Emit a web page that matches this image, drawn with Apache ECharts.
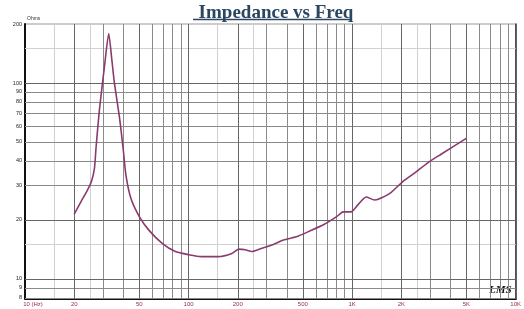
<!DOCTYPE html>
<html><head><meta charset="utf-8">
<script src="https://cdn.jsdelivr.net/npm/echarts@6/dist/echarts.min.js"></script>
<style>html,body{margin:0;padding:0;background:#fff}#c{width:524px;height:309px}</style>
</head><body><div id="c"></div>
<script>
// Impedance curve (Hz, Ohms)
const freqHz = [20, 22, 24, 25.5, 26.6, 27.2, 28.5, 30.6, 32.5, 34, 35.2, 37.8, 39.9, 41.4, 44.4, 50, 57, 69, 83, 100, 120, 152, 184, 203, 222, 243, 272, 330, 381, 456, 554, 668, 805, 882, 985, 1080, 1218, 1370, 1430, 1700, 2040, 2460, 2970, 3500, 4990];
const impedanceOhm = [21.4, 24.8, 28.2, 31.5, 36.8, 47, 72.8, 121, 179, 130, 100, 67, 45.5, 33.9, 25.8, 20.8, 17.8, 15.2, 13.8, 13.3, 13.0, 13.0, 13.5, 14.2, 14.1, 13.8, 14.2, 15.0, 15.8, 16.4, 17.6, 18.9, 20.8, 22.0, 22.0, 23.8, 26.2, 25.3, 25.4, 27.3, 31.4, 35.2, 39.7, 43.3, 52.2];

// tick labels
const xTickValues = [10, 20, 50, 100, 200, 500, 1000, 2000, 5000, 10000];
const xTickLabels = ['10 (Hz)', '20', '50', '100', '200', '500', '1K', '2K', '5K', '10K'];
const yTickValues = [8, 9, 10, 20, 30, 40, 50, 60, 70, 80, 90, 100, 200];

// grid lines
const xGridMajor = [20, 50, 100, 200, 500, 1000, 2000, 5000];
const xGridMinor = [30, 40, 60, 70, 80, 90, 300, 400, 600, 700, 800, 900, 3000, 4000, 6000, 7000, 8000, 9000];
const xGridLight = [15, 25, 150, 250, 1500, 2500];
const yGridMajor = [100, 20, 10];
const yGridMinor = [90, 80, 70, 60, 50, 40, 30, 9, 8];
const yGridLight = [150, 15];

const C_MAJOR = '#666666', C_MINOR = '#8a8a8a', C_LIGHT = '#d0d0d0';
const gridLines = [];
xGridLight.forEach(v => gridLines.push({xAxis: v, lineStyle: {color: C_LIGHT}}));
yGridLight.forEach(v => gridLines.push({yAxis: v, lineStyle: {color: C_LIGHT}}));
xGridMinor.forEach(v => gridLines.push({xAxis: v, lineStyle: {color: C_MINOR}}));
yGridMinor.forEach(v => gridLines.push({yAxis: v, lineStyle: {color: C_MINOR}}));
xGridMajor.forEach(v => gridLines.push({xAxis: v, lineStyle: {color: C_MAJOR}}));
yGridMajor.forEach(v => gridLines.push({yAxis: v, lineStyle: {color: C_MAJOR}}));

const chart = echarts.init(document.getElementById('c'), null, {renderer: 'canvas'});
chart.setOption({
  backgroundColor: '#fff',
  animation: false,
  title: {
    text: 'Impedance vs Freq', left: 271, top: -1, textAlign: 'center',
    textStyle: {fontFamily: 'Liberation Serif', fontWeight: 'bold', fontSize: 19, color: '#2b4660'}
  },
  graphic: [
    {type: 'line', shape: {x1: 193, y1: 19.5, x2: 351, y2: 19.5}, style: {stroke: '#2b4660', lineWidth: 1.3}},
    {type: 'text', left: 489, top: 285, style: {text: 'LMS', font: 'italic bold 11px Liberation Serif', fill: '#111'}}
  ],
  grid: {left: 25, right: 5, top: 24, bottom: 10, show: true, borderColor: '#999', borderWidth: 1},
  xAxis: {
    type: 'log', logBase: 10, min: 10, max: 10000,
    axisLine: {show: true, lineStyle: {color: '#111', width: 2}},
    axisTick: {show: false}, splitLine: {show: false}, minorSplitLine: {show: false},
    axisLabel: {
      customValues: xTickValues, margin: 2, fontSize: 6, color: '#9a2a48', fontFamily: 'Liberation Sans',
      formatter: v => {
        const i = xTickValues.findIndex(t => Math.abs(t - v) / t < 1e-6);
        const s = i >= 0 ? xTickLabels[i] : '';
        return i === 0 ? '{a|' + s + '}' : s;
      },
      rich: {a: {fontSize: 6, color: '#9a2a48', fontFamily: 'Liberation Sans', padding: [0, 0, 0, 16]}}
    }
  },
  yAxis: [{
    type: 'log', logBase: 10, min: 7.9, max: 200,
    name: 'Ohms', nameLocation: 'end', nameGap: 2,
    nameTextStyle: {fontSize: 5, color: '#333', align: 'left', padding: [0, 0, 0, 2]},
    axisLine: {show: true, lineStyle: {color: '#111', width: 2}},
    axisTick: {show: false}, splitLine: {show: false},
    axisLabel: {customValues: yTickValues, margin: 3, fontSize: 5.5, color: '#222', fontFamily: 'Liberation Sans'}
  }, {
    type: 'log', logBase: 10, min: 7.9, max: 200, position: 'right',
    axisLine: {show: true, lineStyle: {color: '#333', width: 1.5}},
    axisTick: {show: false}, axisLabel: {show: false}, splitLine: {show: false}
  }],
  series: [{
    type: 'line', data: [], silent: true, z: 1,
    markLine: {silent: true, symbol: 'none', label: {show: false}, animation: false,
      lineStyle: {type: 'solid', width: 1}, data: gridLines}
  }, {
    type: 'line', z: 5, showSymbol: false, smooth: 0.2,
    data: freqHz.map((f, i) => [f, impedanceOhm[i]]),
    lineStyle: {color: '#8a3a6e', width: 1.6}
  }]
});
</script></body></html>
